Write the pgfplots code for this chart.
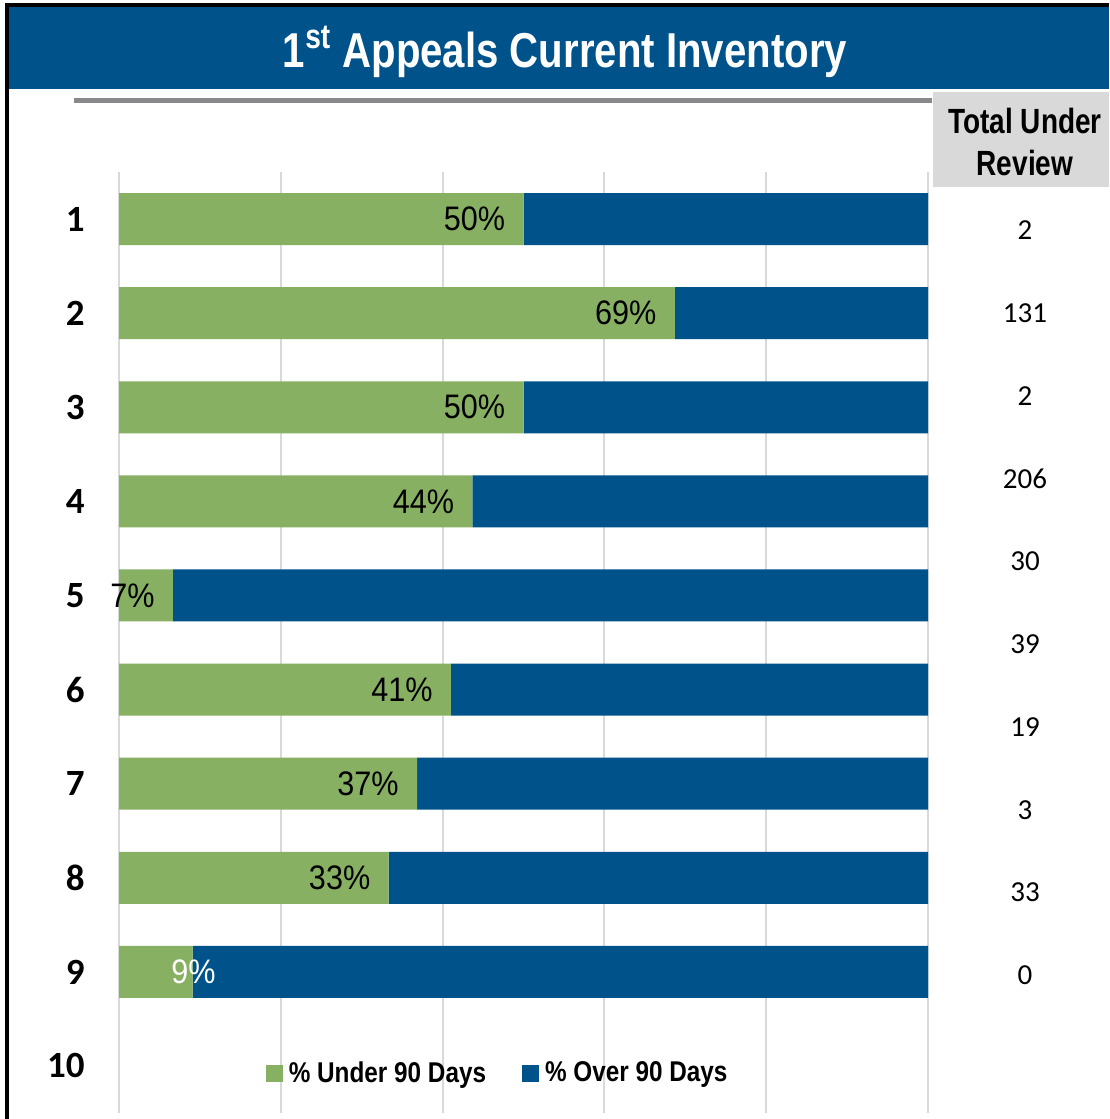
\documentclass[border=0pt]{standalone}
\usepackage{pgfplots}
\usepackage{pgfplotstable}
\pgfplotsset{compat=1.18}
\usepackage{fontspec}
\setmainfont{Liberation Sans}
\newfontfamily\titlefont[FakeStretch=0.82]{Liberation Sans}
\newfontfamily\narrowfont[FakeStretch=0.8]{Liberation Sans}
\newfontfamily\legfont[FakeStretch=0.85]{Liberation Sans}
\newfontfamily\lblfont[FakeStretch=0.9]{Liberation Sans}
\newfontfamily\calibri{Carlito}
\definecolor{bblue}{RGB}{0,83,138}
\definecolor{bgreen}{RGB}{135,176,99}
\definecolor{ggrid}{RGB}{217,217,217}
\definecolor{gline}{RGB}{137,137,140}

\pgfplotstableread{
row under over
1 50.00 50.00
2 68.70 31.30
3 50.00 50.00
4 43.69 56.31
5 6.67 93.33
6 41.03 58.97
7 36.84 63.16
8 33.33 66.67
9 9.09 90.91
}\datatable

\begin{document}
\begin{tikzpicture}
\begin{scope}[x=0.5pt,y=-0.5pt]
\fill[white] (0,0) rectangle (1109,1119);
\fill[bblue] (9,7) rectangle (1109,89);
\fill[black] (5,3) rectangle (1109,7);
\fill[black] (5,3) rectangle (9,1119);
\draw[line width=2.5pt, gline] (74,100.5) -- (932,100.5);
\fill[ggrid] (933,92) rectangle (1109,187);
\node[white, anchor=base, inner sep=0pt, font=\titlefont\bfseries\fontsize{24.5pt}{29pt}\selectfont] at (565,67) {1\textsuperscript{st} Appeals Current Inventory};
\node[anchor=center, inner sep=0pt, font=\narrowfont\bfseries\fontsize{17.5pt}{20pt}\selectfont] at (1025,121) {Total Under};
\node[anchor=center, inner sep=0pt, font=\narrowfont\bfseries\fontsize{17.5pt}{20pt}\selectfont] at (1025,163) {Review};
\foreach \v/\yy in {2/230,131/313,2/396,206/479,30/561,39/644,19/727,3/810,33/892,0/975}
  \node[anchor=center, inner sep=0pt, font=\calibri\fontsize{14.5pt}{17pt}\selectfont] at (1025,\yy) {\v};
\end{scope}

\begin{axis}[
  at={(59.5pt,-86pt)}, anchor=north west,
  scale only axis, width=404.5pt, height=470.5pt,
  xbar stacked, bar width=26pt,
  xmin=0, xmax=100, ymin=0.5, ymax=10.5, y dir=reverse,
  xtick={0,20,40,60,80,100}, xticklabels={},
  xmajorgrids, grid style={ggrid, line width=1pt},
  ytick={1,2,3,4,5,6,7,8,9,10},
  yticklabels={1,2,3,4,5,6,7,8,9,10},
  yticklabel style={anchor=east, inner sep=0pt, xshift=-17pt, font=\calibri\bfseries\fontsize{18.5pt}{21pt}\selectfont},
  axis line style={draw=none}, major tick length=0pt,
  legend columns=2,
  legend style={draw=none, fill=none, at={(0.181,0.042)}, anchor=west, inner xsep=0pt,
    font=\legfont\bfseries\fontsize{14.3pt}{16pt}\selectfont,
    /tikz/every even column/.append style={column sep=16pt}},
  legend image code/.code={\fill[#1] (0pt,-4.25pt) rectangle (8.5pt,4.25pt); \path (9.5pt,0pt);},
]
\addplot[fill=bgreen, draw=none] table[x=under, y=row]{\datatable};
\addplot[fill=bblue, draw=none] table[x=over, y=row]{\datatable};
\legend{\% Under 90 Days, \% Over 90 Days}
\coordinate (L1) at (axis cs:50,1);
\coordinate (L2) at (axis cs:68.70,2);
\coordinate (L3) at (axis cs:50,3);
\coordinate (L4) at (axis cs:43.69,4);
\coordinate (L5) at (axis cs:6.67,5);
\coordinate (L6) at (axis cs:41.03,6);
\coordinate (L7) at (axis cs:36.84,7);
\coordinate (L8) at (axis cs:33.33,8);
\coordinate (L9) at (axis cs:9.09,9);
\end{axis}
\foreach \c/\t in {L1/50,L2/69,L3/50,L4/44,L5/7,L6/41,L7/37,L8/33}
  \node[anchor=east, inner sep=0pt, xshift=-9pt, font=\lblfont\fontsize{17pt}{20pt}\selectfont] at (\c) {\t\%};
\node[anchor=center, inner sep=0pt, xshift=0.5pt, white, font=\lblfont\fontsize{17pt}{20pt}\selectfont] at (L9) {9\%};
\pgfresetboundingbox
\path[use as bounding box] (0pt,0pt) rectangle (554.5pt,-559.5pt);
\end{tikzpicture}
\end{document}
